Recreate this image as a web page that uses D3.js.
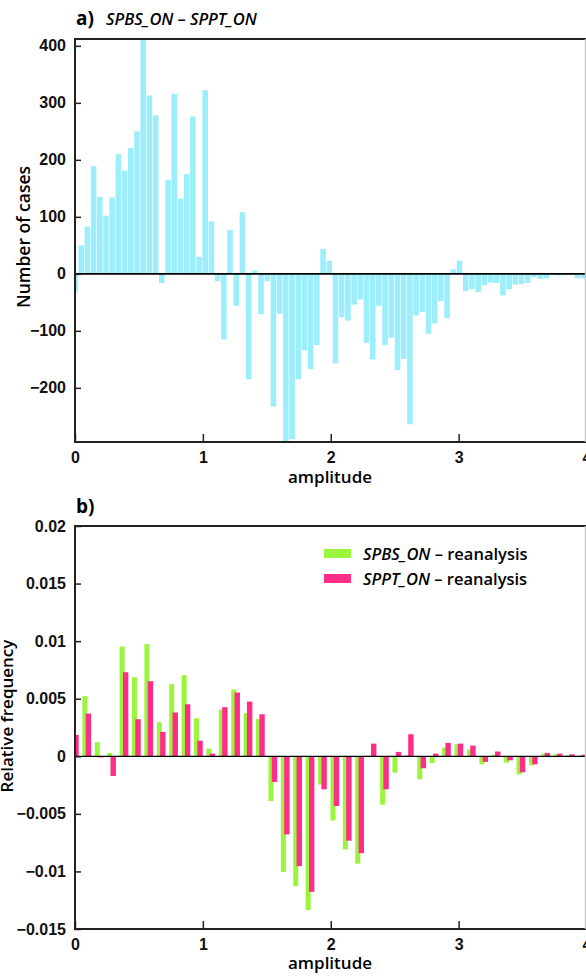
<!DOCTYPE html>
<html>
<head>
<meta charset="utf-8">
<script src="https://cdn.jsdelivr.net/npm/d3@7"></script>
<style>
  body { margin: 0; background: #fff; }
  svg { display: block; font-family: "Open Sans", "Noto Sans", sans-serif; }
  .tick text { font-size: 16px; font-weight: 600; fill: #111; }
  .tick line { stroke: #222; stroke-width: 1.5; }
</style>
</head>
<body>
<svg width="586" height="976"></svg>
<script>
// ---- data ----
// panel a: number of cases per amplitude bin (bin k centred at k * binA)
const binA = 0.0485;
const casesDiff = [
  -33, 50, 83, 189, 135, 102, 134, 210, 181, 221,
  250, 415, 313, 278, -16, 165, 316, 132, 175, 276,
  30, 322, 92, -13, -115, 77, -56, 108, -185, 6,
  -71, -13, -233, -70, -300, -290, -185, -134, -167, -125,
  44, 23, -157, -76, -82, -54, -45, -121, -150, -56,
  -125, -112, -169, -149, -264, -73, -67, -105, -87, -48,
  -78, 8, 23, -30, -27, -32, -20, -15, -16, -38,
  -27, -19, -18, -16, -6, -9, -8, -2, -3, -2,
  -1, -8, -8
];

// panel b: relative frequency differences (bin k centred at k * binB)
const binB = 0.097;
const spbsRean = [
  0.0012, 0.00522, 0.00122, 0.00029, 0.00954, 0.00687, 0.00974, 0.00296, 0.00626, 0.00704,
  0.0033, 0.00067, 0.00406, 0.0058, 0.00374, 0.00325, -0.00389, -0.01006, -0.01128, -0.01336,
  -0.00246, -0.00557, -0.00809, -0.00933, 0.00005, -0.0042, -0.00142, 0.0001, -0.002, -0.00058,
  0.00075, 0.00104, 0.00058, -0.0007, 0.00014, -0.00055, -0.00157, -0.00078, 0.00023, 0.00017,
  0.00012, 0.00012
];
const spptRean = [
  0.00186, 0.00371, -0.0001, -0.00171, 0.0073, 0.00322, 0.00652, 0.00212, 0.0038, 0.00452,
  0.00136, 0.00023, 0.00426, 0.00554, 0.00475, 0.00365, -0.00223, -0.00678, -0.00954, -0.01177,
  -0.00287, -0.00432, -0.00733, -0.00841, 0.0011, -0.00287, 0.00038, 0.00191, -0.00104, 0.00023,
  0.00116, 0.0011, 0.00093, -0.00049, 0.00041, -0.00035, -0.00139, -0.0007, 0.00029, 0.00023,
  0.00017, 0.00014
];

const xTicks = [0, 1, 2, 3, 4];
const yTicksA = [-200, -100, 0, 100, 200, 300, 400];
const yTicksB = [-0.015, -0.01, -0.005, 0, 0.005, 0.01, 0.015, 0.02];
const legendLabels = [["SPBS_ON", " \u2013 reanalysis"], ["SPPT_ON", "\u2013 reanalysis"]];

const svg = d3.select("svg");
const cyan = "#9deefb", green = "#9af53c", pink = "#ff2d88";

function minus(s) { return String(s).replace("-", "\u2212"); }

function frame(g, x, y) {
  const [x0, x1] = x.range(), [y1, y0] = y.range();
  g.append("line").attr("x1", x0).attr("x2", x1).attr("y1", y0).attr("y2", y0)
    .attr("stroke", "#222").attr("stroke-width", 2);
  g.append("line").attr("x1", x0).attr("x2", x1).attr("y1", y1).attr("y2", y1)
    .attr("stroke", "#222").attr("stroke-width", 2);
  g.append("line").attr("x1", x0).attr("x2", x0).attr("y1", y0 - 1).attr("y2", y1 + 1)
    .attr("stroke", "#222").attr("stroke-width", 2);
  g.append("line").attr("x1", x1 - 1).attr("x2", x1 - 1).attr("y1", y0).attr("y2", y1)
    .attr("stroke", "#c8c8c8").attr("stroke-width", 1.5);
}

// ---------- panel a ----------
const xA = d3.scaleLinear().domain([0, 4]).range([75, 586.5]);
const yA = d3.scaleLinear().domain([-295, 412]).range([442, 39]);

svg.append("clipPath").attr("id", "clipA").append("rect")
  .attr("x", 75).attr("y", 39).attr("width", 511.5).attr("height", 403);

const pw = xA(binA) - xA(0);
svg.append("g").attr("clip-path", "url(#clipA)")
  .selectAll("rect").data(casesDiff).enter().append("rect")
  .attr("x", (d, k) => xA(k * binA) - pw / 2 + 0.3)
  .attr("width", pw - 0.6)
  .attr("y", d => yA(Math.max(0, d)))
  .attr("height", d => Math.abs(yA(d) - yA(0)))
  .attr("fill", cyan);

svg.append("line").attr("x1", 75).attr("x2", 586).attr("y1", yA(0)).attr("y2", yA(0))
  .attr("stroke", "#000").attr("stroke-width", 1.6);

svg.append("g").attr("transform", "translate(75,0)")
  .call(d3.axisLeft(yA).tickValues(yTicksA).tickSize(-6).tickPadding(9).tickFormat(minus))
  .call(g => g.select(".domain").remove());
svg.append("g").attr("transform", "translate(0,442)")
  .call(d3.axisBottom(xA).tickValues(xTicks).tickSize(-8).tickPadding(10).tickFormat(d3.format("d")))
  .call(g => g.select(".domain").remove());
frame(svg.append("g"), xA, yA);

svg.append("text").attr("x", 76).attr("y", 25).attr("font-size", 19).attr("font-weight", 700).text("a)");
svg.append("text").attr("x", 106).attr("y", 25).attr("font-size", 16.5).attr("font-style", "italic")
  .attr("font-weight", 600).text("SPBS_ON \u2013 SPPT_ON");
svg.append("text").attr("transform", "translate(30,237) rotate(-90)").attr("text-anchor", "middle")
  .attr("font-size", 17.5).attr("font-weight", 600).text("Number of cases");
svg.append("text").attr("x", 330).attr("y", 483).attr("text-anchor", "middle")
  .attr("font-size", 17).attr("font-weight", 600).text("amplitude");

// ---------- panel b ----------
const xB = d3.scaleLinear().domain([0, 4]).range([75, 586.5]);
const yB = d3.scaleLinear().domain([-0.015, 0.02]).range([929, 526]);

svg.append("clipPath").attr("id", "clipB").append("rect")
  .attr("x", 75).attr("y", 526).attr("width", 511.5).attr("height", 403);

const gb = svg.append("g").attr("clip-path", "url(#clipB)");
gb.selectAll(".g").data(spbsRean).enter().append("rect")
  .attr("x", (d, k) => xB(k * binB) - 5)
  .attr("width", 5)
  .attr("y", d => yB(Math.max(0, d)))
  .attr("height", d => Math.abs(yB(d) - yB(0)))
  .attr("fill", green);
gb.selectAll(".p").data(spptRean).enter().append("rect")
  .attr("x", (d, k) => xB(k * binB) - 1.7)
  .attr("width", 5.4)
  .attr("y", d => yB(Math.max(0, d)))
  .attr("height", d => Math.abs(yB(d) - yB(0)))
  .attr("fill", pink);

svg.append("line").attr("x1", 75).attr("x2", 586).attr("y1", yB(0)).attr("y2", yB(0))
  .attr("stroke", "#000").attr("stroke-width", 1.2);

svg.append("g").attr("transform", "translate(75,0)")
  .call(d3.axisLeft(yB).tickValues(yTicksB).tickSize(-6).tickPadding(9)
    .tickFormat(d => d === 0 ? "0" : minus(+d.toFixed(3))))
  .call(g => g.select(".domain").remove());
svg.append("g").attr("transform", "translate(0,929)")
  .call(d3.axisBottom(xB).tickValues(xTicks).tickSize(-8).tickPadding(10).tickFormat(d3.format("d")))
  .call(g => g.select(".domain").remove());
frame(svg.append("g"), xB, yB);

svg.append("text").attr("x", 76).attr("y", 513).attr("font-size", 19).attr("font-weight", 700).text("b)");
svg.append("text").attr("transform", "translate(13,716) rotate(-90)").attr("text-anchor", "middle")
  .attr("font-size", 17).attr("font-weight", 600).text("Relative frequency");
svg.append("text").attr("x", 330).attr("y", 969).attr("text-anchor", "middle")
  .attr("font-size", 17).attr("font-weight", 600).text("amplitude");

// legend
const leg = svg.append("g");
[green, pink].forEach((c, i) => {
  const yy = 549 + i * 25;
  leg.append("rect").attr("x", 324).attr("y", yy).attr("width", 27).attr("height", 9).attr("fill", c);
  const t = leg.append("text").attr("x", 363).attr("y", yy + 11).attr("font-size", 16.5).attr("font-weight", 600);
  t.append("tspan").attr("font-style", "italic").text(legendLabels[i][0]);
  t.append("tspan").text(" " + legendLabels[i][1]);
});
</script>
</body>
</html>
